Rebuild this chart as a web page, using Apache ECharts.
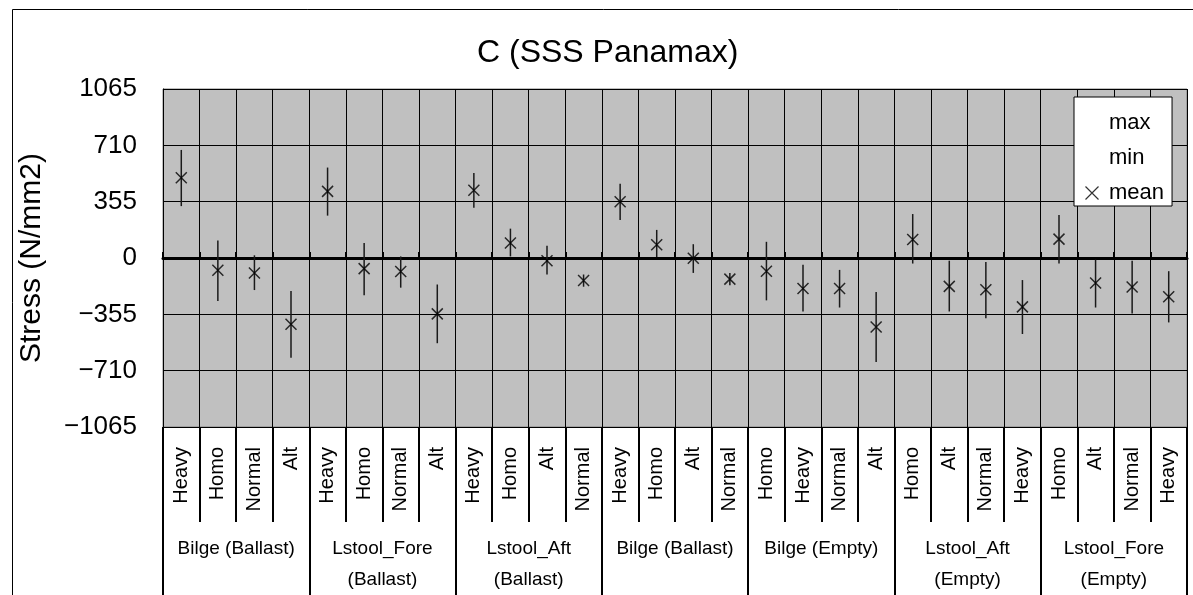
<!DOCTYPE html>
<html>
<head>
<meta charset="utf-8">
<script src="https://cdn.jsdelivr.net/npm/echarts@6/dist/echarts.min.js"></script>
<style>
html,body{margin:0;padding:0;background:#fff;}
#chart{width:1193px;height:595px;}
</style>
</head>
<body>
<div id="chart"></div>
<script>
var categories = ['Heavy','Homo','Normal','Alt','Heavy','Homo','Normal','Alt','Heavy','Homo','Alt','Normal','Heavy','Homo','Alt','Normal','Homo','Heavy','Normal','Alt','Homo','Alt','Normal','Heavy','Homo','Alt','Normal','Heavy'];
var groups = ['Bilge (Ballast)','Lstool_Fore\n(Ballast)','Lstool_Aft\n(Ballast)','Bilge (Ballast)','Bilge (Empty)','Lstool_Aft\n(Empty)','Lstool_Fore\n(Empty)'];
var meanVals = [506,-77,-94,-418, 420,-67,-85,-352, 427,94,-17,-142, 354,83,-2,-133, -83,-192,-192,-435, 117,-179,-200,-308, 119,-158,-183,-244];
var maxVals = [681,110,17,-208, 570,94,10,-167, 535,185,77,-104, 468,177,87,-94, 102,-42,-75,-214, 277,-17,-25,-139, 271,-10,-17,-83];
var minVals = [327,-271,-202,-629, 267,-235,-187,-537, 317,10,-104,-181, 239,6,-94,-171, -267,-337,-312,-656, -35,-337,-379,-479, -35,-312,-350,-406];
var yTicks = [-1065,-710,-355,0,355,710,1065];

var FONT = "'Liberation Sans', Arial, sans-serif";
var XPATH = 'path://M0,0L10,10M10,0L0,10';

var hiLoData = categories.map(function(c,i){ return [i, maxVals[i], minVals[i]]; });

var chart = echarts.init(document.getElementById('chart'), null, {renderer:'canvas'});
var option = {
  backgroundColor:'#ffffff',
  animation:false,
  textStyle:{fontFamily:FONT, color:'#000'},
  title:{
    text:'C (SSS Panamax)', left:477, top:37, padding:0,
    textStyle:{fontFamily:FONT, fontSize:32, fontWeight:'normal', color:'#000'}
  },
  graphic:[{
    type:'rect', shape:{x:12.5, y:9.5, width:1400, height:800},
    style:{fill:'none', stroke:'#000', lineWidth:1}, silent:true, z:-1
  }],
  legend:{
    orient:'vertical', left:1074, top:97,
    padding:[15,8,2,9], itemGap:13, itemWidth:13, itemHeight:13,
    backgroundColor:'#fff', borderColor:'#000', borderWidth:1,
    textStyle:{fontFamily:FONT, fontSize:22, color:'#000'},
    formatter:function(name){ return '\u2005' + name; },
    selectedMode:false,
    data:[
      {name:'max', icon:'rect', itemStyle:{color:'rgba(0,0,0,0)', borderWidth:0}},
      {name:'min', icon:'rect', itemStyle:{color:'rgba(0,0,0,0)', borderWidth:0}},
      {name:'mean', icon:XPATH, itemStyle:{color:'none', borderColor:'#000', borderWidth:1.2}}
    ]
  },
  grid:{
    left:163, right:6, top:89, bottom:165,
    show:true, backgroundColor:'#C0C0C0', borderColor:'#808080', borderWidth:1
  },
  xAxis:[
    {
      type:'category', data:categories, position:'bottom', gridIndex:0,
      boundaryGap:true,
      axisLine:{show:true, onZero:true, lineStyle:{color:'#000', width:3}},
      axisTick:{show:true, inside:true, length:6, interval:0, lineStyle:{color:'#000', width:2}},
      axisLabel:{show:false},
      splitLine:{show:false}
    },
    {
      type:'category', data:categories, position:'bottom', gridIndex:0,
      boundaryGap:true,
      axisLine:{show:true, onZero:false, lineStyle:{color:'#000', width:1}},
      axisTick:{show:true, length:95, interval:0, lineStyle:{color:'#000', width:2}},
      axisLabel:{show:true, interval:0, rotate:90, margin:20, fontFamily:FONT, fontSize:20, color:'#000'},
      splitLine:{show:true, interval:0, lineStyle:{color:'#000', width:1}}
    },
    {
      type:'category', data:groups, position:'bottom', gridIndex:0,
      boundaryGap:true,
      axisLine:{show:false, onZero:false},
      axisTick:{show:true, length:175, interval:0, lineStyle:{color:'#000', width:2}},
      axisLabel:{show:true, interval:0, margin:106, fontFamily:FONT, fontSize:19, color:'#000', lineHeight:31, verticalAlign:'top'},
      splitLine:{show:false}
    }
  ],
  yAxis:{
    type:'value', min:-1065, max:1065, interval:355,
    name:'Stress (N/mm2)', nameLocation:'middle', nameRotate:90, nameGap:116,
    nameTextStyle:{fontFamily:FONT, fontSize:30, color:'#000'},
    axisLine:{show:true, lineStyle:{color:'#000', width:1}},
    axisTick:{show:true, inside:true, length:10, lineStyle:{color:'#000'}},
    axisLabel:{margin:26, fontFamily:FONT, fontSize:26, color:'#000', padding:[5,0,0,0],
      formatter:function(v){ return yTicks.indexOf(v) >= 0 ? String(v).replace('-', '\u2212') : ''; }},
    splitLine:{show:true, lineStyle:{color:'#000', width:1}}
  },
  series:[
    {
      name:'hilo', type:'custom', xAxisIndex:1, data:hiLoData,
      encode:{x:0, y:[1,2]},
      renderItem:function(params, api){
        var p1 = api.coord([api.value(0), api.value(1)]);
        var p2 = api.coord([api.value(0), api.value(2)]);
        return {type:'line', shape:{x1:p1[0], y1:p1[1], x2:p2[0], y2:p2[1]},
          style:{stroke:'#1a1a1a', lineWidth:1.5}};
      },
      z:3
    },
    {name:'max', type:'scatter', xAxisIndex:1, data:maxVals, symbol:'circle', symbolSize:0,
      itemStyle:{color:'rgba(0,0,0,0)'}, z:1},
    {name:'min', type:'scatter', xAxisIndex:1, data:minVals, symbol:'circle', symbolSize:0,
      itemStyle:{color:'rgba(0,0,0,0)'}, z:1},
    {name:'mean', type:'scatter', xAxisIndex:1, data:meanVals, symbol:XPATH, symbolSize:11,
      itemStyle:{color:'none', borderColor:'#000', borderWidth:1.5}, z:4}
  ]
};
chart.setOption(option);
</script>
</body>
</html>
